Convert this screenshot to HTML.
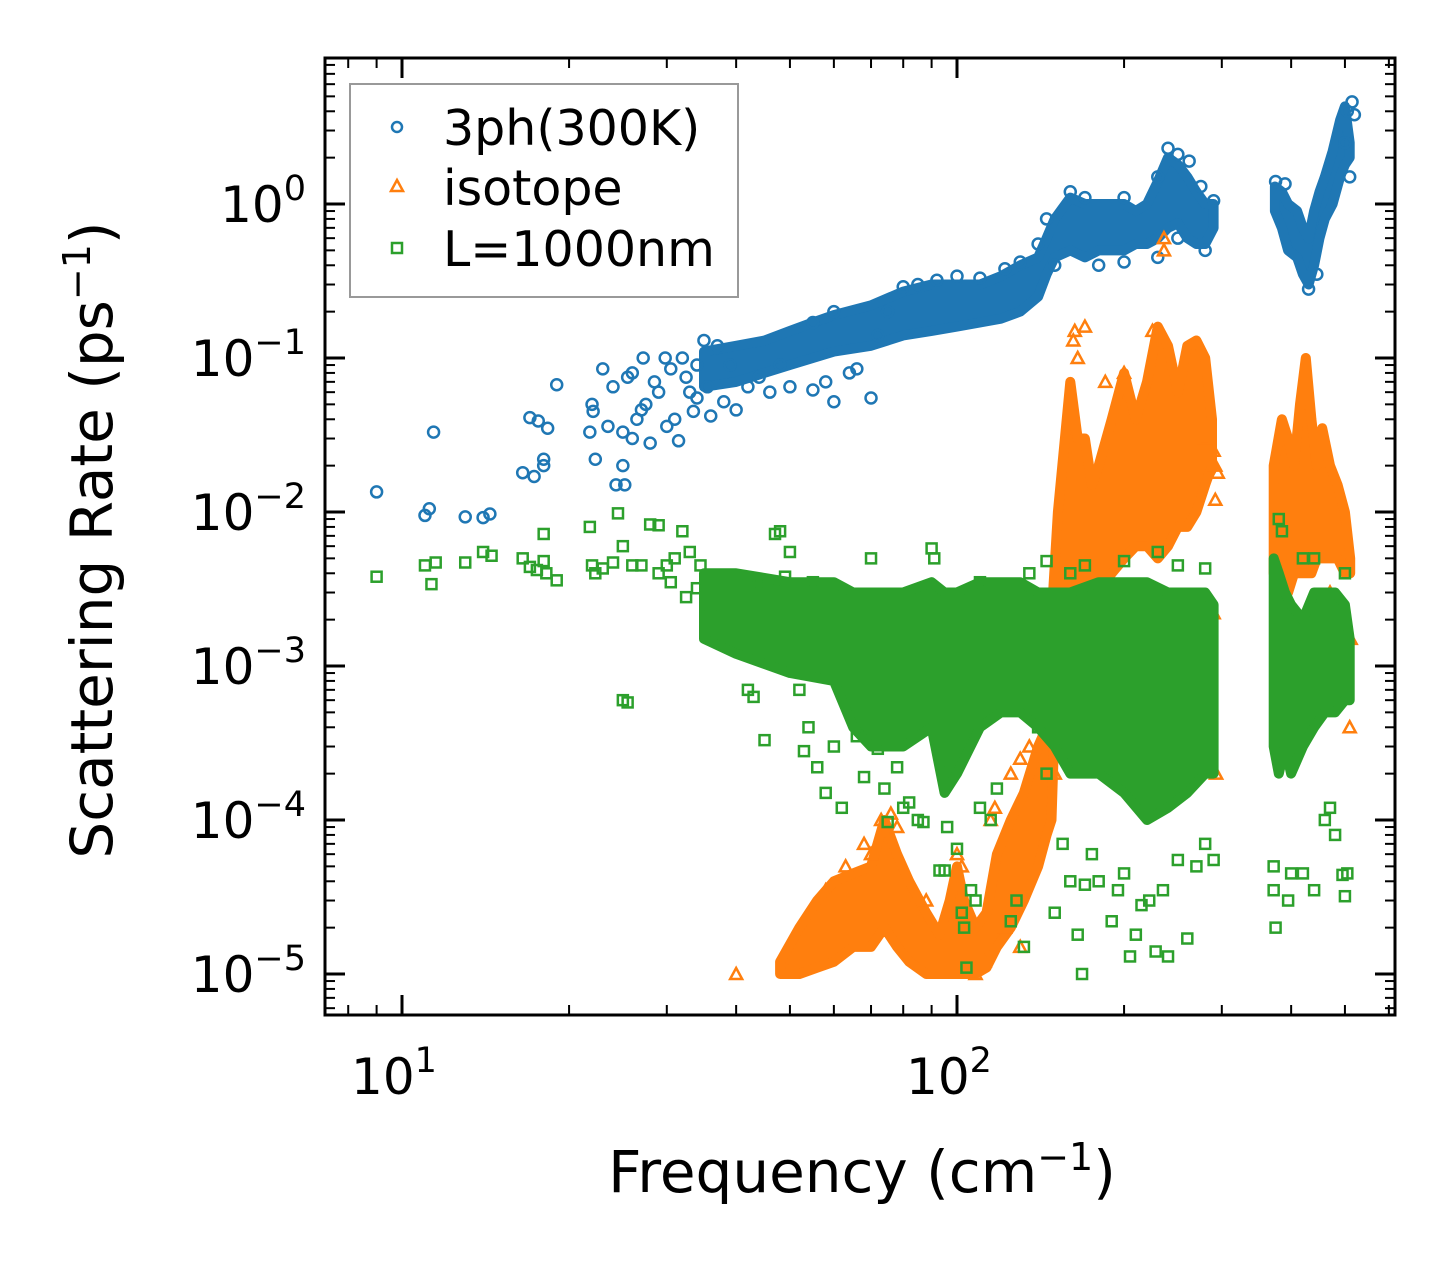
<!DOCTYPE html>
<html><head><meta charset="utf-8"><style>
html,body{margin:0;padding:0;background:#fff;}
svg{display:block;font-family:"DejaVu Sans","Liberation Sans",sans-serif;}
</style></head><body>
<svg id="chart" width="1455" height="1265" viewBox="0 0 1455 1265" xmlns="http://www.w3.org/2000/svg">
<defs><clipPath id="clip"><rect x="325" y="58" width="1070" height="957"/></clipPath></defs>
<rect x="0" y="0" width="1455" height="1265" fill="#fff"/>
<g id="plot" clip-path="url(#clip)"></g>
<g id="axes"></g>
<text x="862" y="1192" font-size="58" text-anchor="middle">Frequency (cm<tspan dy="-22" font-size="38">−1</tspan><tspan dy="22">)</tspan></text>
<text transform="translate(112,540) rotate(-90)" font-size="58" text-anchor="middle">Scattering Rate (ps<tspan dy="-22" font-size="38">−1</tspan><tspan dy="22">)</tspan></text>
<g>
<rect x="350" y="84" width="388" height="213" fill="#fff" fill-opacity="0.8" stroke="#999" stroke-width="2"/>
<circle cx="397" cy="127" r="5" fill="none" stroke="#1f77b4" stroke-width="2.5"/>
<text x="443" y="145" font-size="49">3ph(300K)</text>
<polygon points="397,180 403,191 391,191" fill="none" stroke="#ff7f0e" stroke-width="2.5"/>
<text x="443" y="205" font-size="49">isotope</text>
<rect x="392" y="243" width="10" height="10" fill="none" stroke="#2ca02c" stroke-width="2.5"/>
<text x="443" y="266" font-size="49">L=1000nm</text>
</g>
</svg>
<script>
// ---- data ----
const blueBandFreq = [35,40,45,50,55,60,70,80,90,100,110,120,130,140,145,150,160,170,180,200,210,220,230,240,250,260,270,280,290];
const blueBandLo   = [0.065,0.07,0.08,0.09,0.1,0.11,0.12,0.14,0.15,0.16,0.17,0.18,0.2,0.25,0.35,0.45,0.5,0.45,0.5,0.5,0.55,0.55,0.6,0.7,0.75,0.6,0.55,0.55,0.7];
const blueBandHi   = [0.11,0.12,0.13,0.15,0.17,0.19,0.22,0.27,0.3,0.3,0.3,0.34,0.4,0.45,0.6,0.8,1.1,1.0,1.0,1.0,0.9,1.0,1.4,2.0,1.8,1.5,1.2,1.0,1.0];
const blueBand2Freq = [374,385,395,410,420,430,440,450,460,475,490,500,510];
const blueBand2Lo   = [0.9,0.7,0.5,0.45,0.35,0.3,0.4,0.6,0.8,1.0,1.5,1.8,2.0];
const blueBand2Hi   = [1.3,1.2,1.0,0.9,0.7,0.6,0.9,1.2,1.5,2.2,3.5,4.3,2.5];
const blueFreq = [9,11,11.2,11.4,13,14,14.4,16.5,17,17.3,17.6,18,18,18.3,19,21.8,22,22.1,22.3,23,23.5,24,24.3,25,25.2,25,25.5,26,26,26.5,27,27.2,27.5,28,28.5,29,29.8,30,30.5,31,31.5,32,32.5,33,33.5,34,34,35,35.5,36,37,38,39,40,42,44,46,48,50,55,58,60,64,66,70,72,75,55,60,80,85,92,100,110,122,130,140,145,160,170,200,230,240,250,262,275,290,150,180,200,230,250,280,375,390,430,445,500,515,520,505,510];
const blueRate = [.0135,.0095,.0105,.033,.0093,.0092,.0097,.018,.041,.017,.039,.022,.02,.035,.067,.033,.05,.045,.022,.085,.036,.065,.015,.02,.015,.033,.075,.08,.03,.04,.046,.1,.05,.028,.07,.06,.1,.036,.085,.04,.029,.1,.075,.06,.045,.09,.055,.13,.065,.042,.12,.052,.09,.046,.065,.075,.06,.09,.065,.062,.07,.052,.08,.085,.055,.14,.2,.17,.2,.29,.3,.32,.34,.33,.38,.42,.55,.8,1.2,1.1,1.1,1.5,2.3,2.1,1.9,1.3,1.05,.4,.4,.42,.45,.6,.5,1.4,1.35,.28,.35,2.5,4.6,3.8,4.0,1.5];

const orangeBandFreq = [48,52,56,60,65,70,74,78,82,88,93,97,100,103,108,113,118,125,132,140,145,148,152,160,165,170,175,180,190,200,210,220,230,240,250,260,270,280,288];
const orangeBandLo   = [1e-5,1e-5,1.1e-5,1.2e-5,1.5e-5,1.5e-5,2e-5,1.5e-5,1.2e-5,1e-5,1e-5,1e-5,1e-5,1e-5,1e-5,1.1e-5,1.5e-5,2e-5,3e-5,5e-5,8e-5,1e-4,2e-3,3e-3,3e-3,3e-3,3e-3,3e-3,4e-3,5e-3,6e-3,6e-3,5e-3,6e-3,8e-3,8e-3,1e-2,1.5e-2,2e-2];
const orangeBandHi   = [1.2e-5,2e-5,3e-5,4e-5,4.5e-5,5e-5,1e-4,6e-5,4e-5,2.5e-5,1.8e-5,3e-5,5e-5,3e-5,2e-5,2.5e-5,6e-5,1e-4,1.5e-4,3e-4,4e-4,2e-3,1e-2,7e-2,3e-2,3e-2,1.5e-2,2e-2,4e-2,8e-2,4e-2,7e-2,1.6e-1,1.2e-1,6e-2,1.2e-1,1.3e-1,1e-1,4e-2];
const orangeBand2Freq = [372,385,395,405,415,425,435,445,455,470,485,500,511];
const orangeBand2Lo   = [4e-3,3e-3,3e-3,4e-3,4e-3,4e-3,4e-3,5e-3,5e-3,5e-3,5e-3,4e-3,4e-3];
const orangeBand2Hi   = [2e-2,4e-2,3e-2,2e-2,5e-2,1e-1,4e-2,2e-2,3.5e-2,2e-2,1.5e-2,1e-2,5e-3];
const orangeFreq = [40,50,236,236,163,162,170,165,200,185,225,280,290,292,295,292,290,293,510,512,445,470,150,88,85,102,100,115,117,125,130,135,70,73,76,78,68,63,58,55,130,108,112,122];
const orangeRate = [1e-5,1.05e-5,.5,.6,.15,.13,.16,.1,.08,.07,.15,.03,.025,.02,.018,.012,.0022,.0002,.0004,.0015,.0024,.003,2e-4,3e-5,3.2e-5,5e-5,6e-5,1e-4,1.2e-4,2e-4,2.5e-4,3e-4,6e-5,1e-4,1.1e-4,9e-5,7e-5,5e-5,3.5e-5,2.5e-5,1.5e-5,1e-5,1.2e-5,2e-5];

const greenBandFreq = [35,40,50,60,65,70,80,90,95,100,110,120,130,140,150,160,180,200,220,240,260,280,290];
const greenBandLo   = [1.5e-3,1.2e-3,9e-4,8e-4,4e-4,3e-4,3e-4,4e-4,1.5e-4,2e-4,4e-4,5e-4,5e-4,4e-4,3e-4,2e-4,2e-4,1.5e-4,1e-4,1.2e-4,1.5e-4,2e-4,2e-4];
const greenBandHi   = [4e-3,4e-3,3.5e-3,3.5e-3,3e-3,3e-3,3e-3,3.5e-3,3e-3,3e-3,3.5e-3,3.5e-3,3.5e-3,3e-3,3e-3,3e-3,3.5e-3,3.5e-3,3.5e-3,3e-3,3e-3,3e-3,2.5e-3];
const greenBand2Freq = [372,380,390,400,420,440,460,480,500,510];
const greenBand2Lo   = [3e-4,2e-4,3e-4,2e-4,3e-4,4e-4,5e-4,5e-4,6e-4,6e-4];
const greenBand2Hi   = [5e-3,4e-3,3e-3,2.5e-3,2e-3,3e-3,3e-3,3e-3,2.5e-3,1.5e-3];
const greenFreq = [9,11,11.3,11.5,13,14,14.5,16.5,17,17.5,18,18,18.2,19,21.8,22,22.3,23,24,24.5,25,25,25.5,26,27,28,29,29,30,30.5,31,32,32.5,33,34,34.5,36,38,40,42,43,44,45,47,48,49,50,52,53,54,55,56,58,60,62,62,66,68,70,72,74,75,78,80,82,85,87,90,91,93,95,96,100,102,104,103,106,108,110,115,118,125,128,132,140,145,150,155,160,165,168,170,175,180,190,195,200,205,210,215,222,228,235,240,250,260,270,280,290,160,170,200,230,280,250,372,372,375,395,400,420,440,460,470,480,495,500,505,380,385,420,440,500,145,135,110];
const greenRate = [.0038,.0045,.0034,.0047,.0047,.0055,.0052,.005,.0044,.0042,.0072,.0048,.004,.0036,.008,.0045,.004,.0043,.0047,.0098,.006,.0006,.00058,.0045,.0045,.0083,.0082,.004,.0045,.0035,.005,.0075,.0028,.0055,.0032,.0045,.0025,.0022,.0013,.0007,.00063,.0034,.00033,.0072,.0075,.0038,.0055,.0007,.00028,.0004,.0035,.00022,.00015,.0003,.00012,.0018,.00035,.00019,.005,.00029,.00016,.000097,.00022,.00012,.00013,.0001,.000097,.0058,.005,.000047,.000047,.00009,.000065,.000025,.000011,.00002,.000035,.00003,.00012,.0001,.00016,.000022,.00003,.000015,.0004,.0002,.000025,.00007,.00004,.000018,.00001,.000038,.00006,.00004,.000022,.000035,.000045,.000013,.000018,.000028,.00003,.000014,.000035,.000013,.000055,.000017,.00005,.00007,.000055,.004,.0045,.0048,.0055,.0043,.0045,.00005,.000035,.00002,.00003,.000045,.000045,.000035,.0001,.00012,.00008,.000044,.000032,.000045,.009,.0075,.005,.005,.004,.0048,.004,.0035];

const xTickValues = [10,100];
const xTickLabels = ["1","2"];
const yTickValues = [1,0.1,0.01,0.001,0.0001,0.00001];
const yTickLabels = ["0","−1","−2","−3","−4","−5"];

// ---- scales ----
const X0=325,X1=1395,Y0=58,Y1=1015;
function xs(f){return 402+555*(Math.log10(f)-1);}
function ys(v){return 204-154*Math.log10(v);}
const NS="http://www.w3.org/2000/svg";
const plot=document.getElementById('plot');
const axes=document.getElementById('axes');
function mk(tag,attrs,parent){const e=document.createElementNS(NS,tag);for(const k in attrs)e.setAttribute(k,attrs[k]);parent.appendChild(e);return e;}

function band(fr,lo,hi,color,name){
  const pts=[];
  for(let i=0;i<fr.length;i++)pts.push(xs(fr[i]).toFixed(1)+','+ys(hi[i]).toFixed(1));
  for(let i=fr.length-1;i>=0;i--)pts.push(xs(fr[i]).toFixed(1)+','+ys(lo[i]).toFixed(1));
  const p=mk('polygon',{points:pts.join(' '),fill:color,stroke:color,'stroke-width':10,'stroke-linejoin':'round'},plot);
  
  
}
function marker(kind,f,v,color){
  const x=xs(f),y=ys(v);let e;
  if(kind==='circle'){e=mk('circle',{cx:x,cy:y,r:5.5,fill:'none',stroke:color,'stroke-width':2.5},plot);}
  else if(kind==='tri'){e=mk('polygon',{points:`${x},${y-6} ${x+6},${y+5} ${x-6},${y+5}`,fill:'none',stroke:color,'stroke-width':2.5},plot);}
  else{e=mk('rect',{x:x-5,y:y-5,width:10,height:10,fill:'none',stroke:color,'stroke-width':2.5},plot);}
  
  
}
band(blueBandFreq,blueBandLo,blueBandHi,'#1f77b4','3ph-dense-band');
band(blueBand2Freq,blueBand2Lo,blueBand2Hi,'#1f77b4','3ph-dense-band-high');
for(let i=0;i<blueFreq.length;i++)marker('circle',blueFreq[i],blueRate[i],'#1f77b4');
band(orangeBandFreq,orangeBandLo,orangeBandHi,'#ff7f0e','isotope-dense-band');
band(orangeBand2Freq,orangeBand2Lo,orangeBand2Hi,'#ff7f0e','isotope-dense-band-high');
for(let i=0;i<orangeFreq.length;i++)marker('tri',orangeFreq[i],orangeRate[i],'#ff7f0e');
band(greenBandFreq,greenBandLo,greenBandHi,'#2ca02c','boundary-dense-band');
band(greenBand2Freq,greenBand2Lo,greenBand2Hi,'#2ca02c','boundary-dense-band-high');
for(let i=0;i<greenFreq.length;i++)marker('sq',greenFreq[i],greenRate[i],'#2ca02c');

// ---- axes ----
function line(x1,y1,x2,y2,w){const l=mk('line',{x1,y1,x2,y2,stroke:'#000','stroke-width':w},axes);
  
  }
for(let d=0;d<=2;d++){for(let m=1;m<=9;m++){const f=m*Math.pow(10,d);const x=xs(f);if(x<X0||x>X1)continue;
  const L=(m===1)?20:10,w=(m===1)?3:2;line(x,Y1,x,Y1-L,w);line(x,Y0,x,Y0+L,w);}}
for(let d=-6;d<=0;d++){for(let m=1;m<=9;m++){const v=m*Math.pow(10,d);const y=ys(v);if(y<Y0||y>Y1)continue;
  const L=(m===1)?20:10,w=(m===1)?3:2;line(X0,y,X0+L,y,w);line(X1,y,X1-L,y,w);}}
const frame=mk('rect',{x:X0,y:Y0,width:X1-X0,height:Y1-Y0,fill:'none',stroke:'#000','stroke-width':3},axes);


for(let i=0;i<xTickValues.length;i++){
  const t=mk('text',{x:xs(xTickValues[i])-8,y:1094,'font-size':50,'text-anchor':'middle'},axes);
  
  
  t.innerHTML='10<tspan dy="-22" font-size="35">'+xTickLabels[i]+'</tspan>';
}
for(let i=0;i<yTickValues.length;i++){
  const t=mk('text',{x:306,y:ys(yTickValues[i])+18,'font-size':50,'text-anchor':'end'},axes);
  
  
  t.innerHTML='10<tspan dy="-22" font-size="35">'+yTickLabels[i]+'</tspan>';
}
</script>
</body></html>
